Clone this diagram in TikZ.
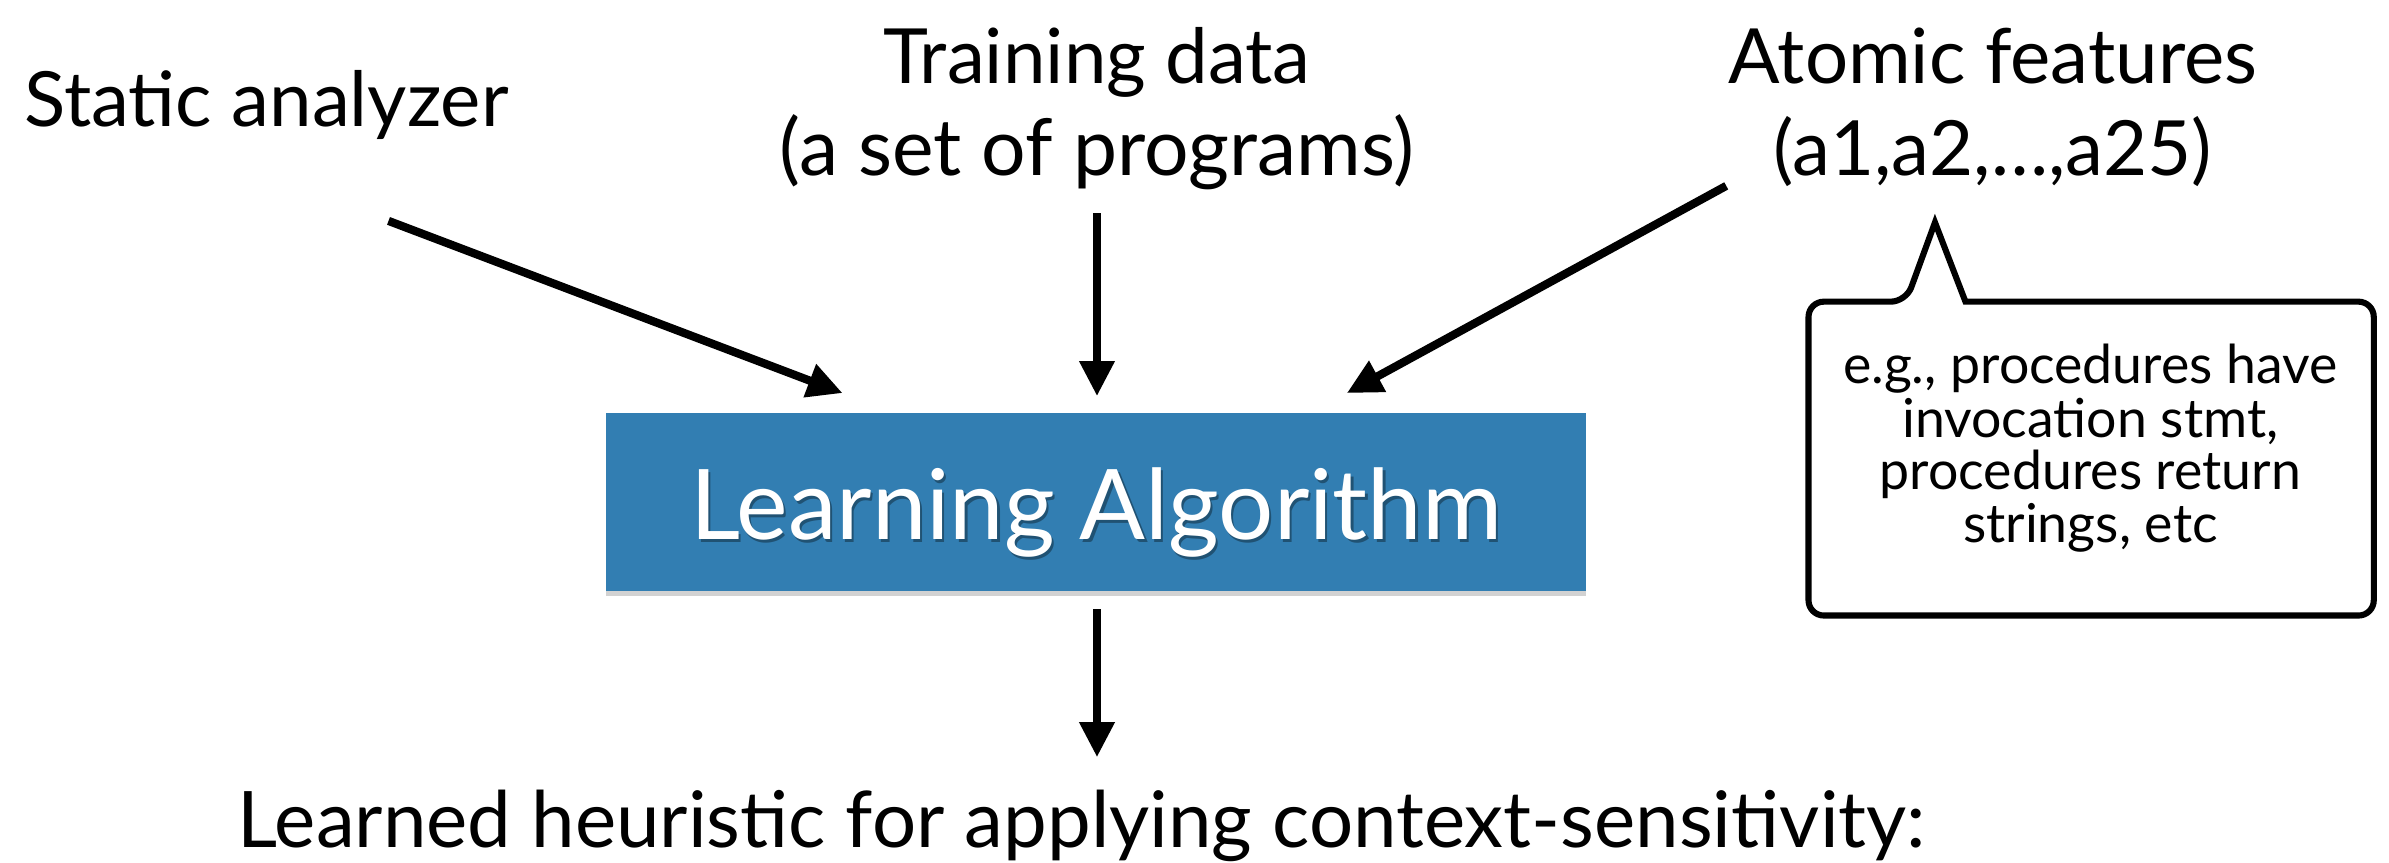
\documentclass[tikz,border=0pt]{standalone}
\usepackage{fontspec}
\setmainfont{Lato}
\usetikzlibrary{arrows.meta,shadows}
\definecolor{algoblue}{RGB}{50,126,178}
\begin{document}
\begin{tikzpicture}[x=0.5pt,y=-0.5pt,
  lbl/.style={font=\fontsize{25}{30}\selectfont, inner sep=0pt, anchor=base},
  note/.style={font=\fontsize{17.6}{21}\selectfont, inner sep=0pt, anchor=base},
  arr/.style={line width=2.7pt, -{Triangle[length=11.5pt,width=11pt]}},
  algobox/.style={fill=algoblue, inner sep=0pt, minimum width=321.5pt, minimum height=58.5pt,
    drop shadow={shadow xshift=0pt, shadow yshift=-1.5pt, opacity=0.35}},
  bubble/.style={draw, line width=2pt, rounded corners=5pt, fill=white}]
  \useasboundingbox[fill=white] (0,0) rectangle (1568,566);

  % input labels
  \node[lbl] (sa) at (175,83) {Static analyzer};
  \node[lbl] (td1) at (720,55) {Training data};
  \node[lbl, font=\fontsize{25.8}{30}\selectfont] (td2) at (720,115) {(a set of programs)};
  \node[lbl] (af1) at (1308,55) {Atomic features};
  \node[lbl] (af2) at (1308,115) {(a1,a2,…,a25)};

  % the learning algorithm
  \node[algobox] (algo) at (719.5,329.5) {};
  \node[font=\fontsize{32}{38}\selectfont, text=black, opacity=0.35, inner sep=0pt, anchor=base]
    at ([xshift=0.7pt,yshift=-1pt]algo.center |- 0,354) {Learning Algorithm};
  \node[font=\fontsize{32}{38}\selectfont, text=white, inner sep=0pt, anchor=base]
    (algotext) at (algo.center |- 0,354) {Learning Algorithm};

  % output
  \node[lbl, font=\fontsize{25.6}{30}\selectfont] (out) at (710,556)
    {Learned heuristic for applying context-sensitivity:};

  % arrow end points
  \coordinate (saS) at (255,145);
  \coordinate (saE) at (553,258);
  \coordinate (tdS) at (720,140);
  \coordinate (tdE) at (720,260);
  \coordinate (afS) at (1133,122);
  \coordinate (afE) at (884,258);
  \coordinate (algoS) at (720,400);
  \coordinate (outE) at (720,497);

  \draw[arr] (saS) -- (saE);
  \draw[arr] (tdS) -- (tdE);
  \draw[arr] (afS) -- (afE);
  \draw[arr] (algoS) -- (outE);

  % speech bubble with examples of atomic features
  \coordinate (tip) at (1270,146);
  \draw[bubble] (1251,198) [sharp corners] -- (tip) -- (1290,198) [rounded corners=5pt]
    -- (1558,198) -- (1558,404) -- (1187,404) -- (1187,198) -- cycle;
  \node[note] (n1) at (1372,252) {e.g., procedures have};
  \node[note] (n2) at (1372,287) {invocation stmt,};
  \node[note] (n3) at (1372,321) {procedures return};
  \node[note] (n4) at (1372,356) {strings, etc};
\end{tikzpicture}
\end{document}
